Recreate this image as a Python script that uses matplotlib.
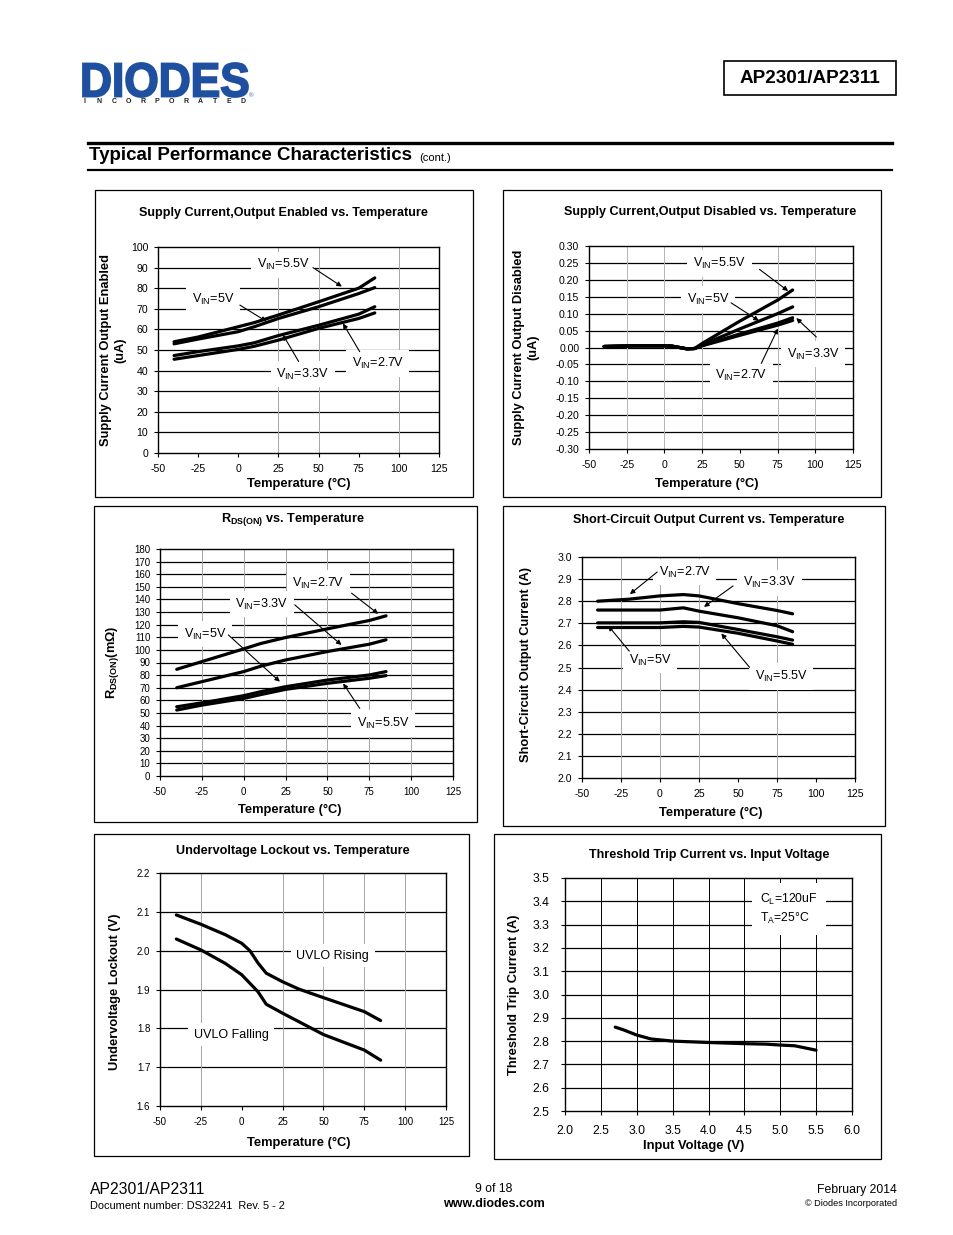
import matplotlib
matplotlib.use("Agg")
import matplotlib.pyplot as plt
from matplotlib.patches import Rectangle, PathPatch
from matplotlib.textpath import TextPath
from matplotlib.font_manager import FontProperties
from matplotlib.transforms import Affine2D

plt.rcParams['font.family'] = ['Liberation Sans', 'DejaVu Sans']
plt.rcParams['mathtext.fontset'] = 'custom'
plt.rcParams['mathtext.rm'] = 'Liberation Sans'
plt.rcParams['mathtext.bf'] = 'Liberation Sans:bold'
plt.rcParams['mathtext.it'] = 'Liberation Sans:italic'

W, H = 954, 1235

# --- data ---

# supply current, output enabled (uA)
T_EN = [-40, -25, 0, 10, 25, 50, 75, 85]
EN_55 = [54.0, 56.3, 61.3, 63.3, 67.0, 73.4, 80.0, 85.0]
EN_5 = [53.0, 55.3, 58.9, 61.3, 65.3, 71.0, 77.4, 80.3]
EN_33 = [47.3, 49.2, 52.0, 53.5, 57.0, 62.0, 67.4, 71.0]
EN_27 = [45.5, 47.3, 50.3, 51.8, 54.8, 60.5, 65.3, 68.0]

# supply current, output disabled (uA)
T_DIS = [-40, -20, 0, 5, 10, 15, 20, 25, 50, 75, 85]
DIS_55 = [0.003, 0.005, 0.005, 0.004, 0.000, -0.004, -0.003, 0.012, 0.078, 0.140, 0.170]
DIS_5 = [0.003, 0.005, 0.005, 0.004, 0.000, -0.004, -0.003, 0.008, 0.055, 0.100, 0.120]
DIS_33 = [0.003, 0.005, 0.005, 0.004, 0.000, -0.004, -0.003, 0.006, 0.040, 0.072, 0.088]
DIS_27 = [0.003, 0.005, 0.005, 0.004, 0.000, -0.004, -0.003, 0.005, 0.036, 0.066, 0.080]

# RDS(ON) (mOhm)
T_RDS = [-40, -25, 0, 10, 25, 50, 75, 85]
RDS_27 = [84.6, 90.7, 100.8, 105.0, 109.8, 116.7, 123.3, 127.0]
RDS_33 = [70.0, 74.8, 82.8, 87.0, 92.0, 98.7, 104.5, 108.0]
RDS_5 = [54.9, 58.0, 63.7, 66.8, 70.8, 76.1, 80.1, 82.8]
RDS_55 = [52.3, 56.2, 61.5, 64.5, 68.7, 73.5, 77.5, 79.6]

# short-circuit output current (A)
T_SC = [-40, -20, 0, 15, 25, 50, 75, 85]
SC_27 = [2.800, 2.809, 2.824, 2.830, 2.824, 2.789, 2.758, 2.743]
SC_33 = [2.760, 2.760, 2.760, 2.770, 2.755, 2.725, 2.689, 2.662]
SC_5 = [2.702, 2.702, 2.702, 2.707, 2.704, 2.672, 2.639, 2.624]
SC_55 = [2.681, 2.681, 2.681, 2.686, 2.683, 2.655, 2.620, 2.605]

# undervoltage lockout (V)
T_UV = [-40, -25, -10, 0, 5, 10, 15, 25, 35, 50, 75, 85]
UV_RISE = [2.092, 2.068, 2.041, 2.019, 2.000, 1.968, 1.942, 1.920, 1.901, 1.879, 1.843, 1.820]
UV_FALL = [2.030, 2.002, 1.967, 1.938, 1.916, 1.894, 1.862, 1.839, 1.817, 1.784, 1.744, 1.718]

# threshold trip current (A) vs input voltage (V)
VIN = [2.7, 2.8, 3.0, 3.2, 3.5, 4.0, 4.5, 4.8, 5.0, 5.2, 5.5]
TRIP = [2.860, 2.850, 2.826, 2.809, 2.800, 2.794, 2.789, 2.787, 2.783, 2.780, 2.761]

TEMP_TICKS = [-50, -25, 0, 25, 50, 75, 100, 125]

TITLE_FS = 9.1
LABEL_FS = 9.3
TAG_FS = 9.1


def vin(v):
    return r'V$_{\mathrm{IN}}$=' + v


fig = plt.figure(figsize=(W / 100, H / 100), dpi=100)
page = fig.add_axes([0, 0, 1, 1])
page.set_xlim(0, W)
page.set_ylim(H, 0)
page.axis('off')


def frame(l, t, r, b):
    page.add_patch(Rectangle((l, t), r - l, b - t, fill=False, lw=0.9, ec='k'))


def chart(l, t, r, b, yticks, yfmt, vgrid, vcolor='#a5a5a5',
          xticks=TEMP_TICKS, xfmt='%g', fs=7.6, xpad=5, ypad=4):
    ax = fig.add_axes([l / W, 1 - b / H, (r - l) / W, (b - t) / H])
    ax.set_xlim(xticks[0], xticks[-1])
    ax.set_ylim(yticks[0], yticks[-1])
    ax.set_xticks(xticks)
    ax.set_xticklabels([xfmt % v for v in xticks])
    ax.set_yticks(yticks)
    ax.set_yticklabels([yfmt % v for v in yticks])
    for y in yticks[1:-1]:
        ax.axhline(y, color='k', lw=0.9, zorder=1)
    for x in vgrid:
        ax.axvline(x, color=vcolor, lw=0.7, zorder=1)
    ax.tick_params(direction='out', length=3, width=0.8, labelsize=fs)
    ax.tick_params(axis='x', pad=xpad)
    ax.tick_params(axis='y', pad=ypad)
    for s in ax.spines.values():
        s.set_linewidth(1.0)
    return ax


def curve(ax, x, y):
    ax.plot(x, y, color='k', lw=2.3, solid_capstyle='round', zorder=4)


def tag(ax, s, pos, start=None, end=None, fs=TAG_FS, ha='center'):
    ax.text(pos[0], pos[1], s, fontsize=fs, ha=ha, va='center', zorder=3,
            bbox=dict(facecolor='white', edgecolor='none', pad=4))
    if start is not None:
        ax.annotate('', xy=end, xytext=start, zorder=5,
                    arrowprops=dict(arrowstyle='-|>', color='k', lw=0.8,
                                    mutation_scale=7, shrinkA=0, shrinkB=0))


def heading(x, y, s):
    page.text(x, y, s, fontsize=TITLE_FS, fontweight='bold', ha='center', va='center')


def xlab(x, y, s):
    page.text(x, y, s, fontsize=LABEL_FS, fontweight='bold', ha='center', va='center')


def ylab(x, y, s):
    page.text(x, y, s, fontsize=LABEL_FS, fontweight='bold', ha='center', va='center',
              rotation=90, linespacing=1.25)


# --- page header ---
tp = TextPath((0, 0), 'DIODES', size=1, prop=FontProperties(family='Liberation Sans', weight='bold'))
ext = tp.get_extents()
sx = (248 - 83) / ext.width
sy = (97 - 63) / ext.height
logo = Affine2D().translate(-ext.x0, -ext.y0).scale(sx, -sy).translate(83, 97).transform_path(tp)
page.add_patch(PathPatch(logo, fc='#1f4f9f', ec='#1f4f9f', lw=1.3))
for i, ch in enumerate('INCORPORATED'):
    page.text(85 + i * 14.4, 101.5, ch, fontsize=5, fontweight='bold', ha='center', va='center', color='#222222')
page.text(251, 96, '®', fontsize=4.5, color='#1f4f9f', ha='center', va='center')

page.add_patch(Rectangle((724, 61), 172, 34, fill=False, lw=1.2, ec='k'))
page.text(810, 78.5, 'AP2301/AP2311', fontsize=13.6, fontweight='bold', ha='center', va='center')

page.plot([88, 892], [142.5, 142.5], color='k', lw=2.4)
page.plot([88, 892], [170, 170], color='k', lw=1.6)
page.text(89, 156, 'Typical Performance Characteristics', fontsize=13.5, fontweight='bold', ha='left', va='center')
page.text(419, 158, '(cont.)', fontsize=8, ha='left', va='center')

# --- panel 1: supply current, output enabled ---
frame(95, 190, 473, 497)
ax = chart(158, 247, 439, 453, list(range(0, 101, 10)), '%d', [25, 50, 100])
for ys in (EN_55, EN_5, EN_33, EN_27):
    curve(ax, T_EN, ys)
tag(ax, vin('5.5V'), (27.9, 91.3), (46.5, 90.0), (64.5, 80.8))
tag(ax, vin('5V'), (-15.7, 74.5), (1.0, 71.8), (17.5, 63.9))
tag(ax, vin('3.3V'), (40.3, 38.2), (37.6, 44.4), (27.9, 57.3))
tag(ax, vin('2.7V'), (86.6, 43.5), (75.6, 49.2), (65.2, 62.9))
heading(283, 213, 'Supply Current,Output Enabled vs. Temperature')
ylab(113, 350, 'Supply Current Output Enabled\n(uA)')
xlab(299, 484, 'Temperature (°C)')

# --- panel 2: supply current, output disabled ---
frame(503, 190, 881, 497)
ax = chart(589, 246, 853, 449, [round(-0.30 + 0.05 * i, 2) for i in range(13)], '%.2f',
           [-25, 0, 25, 75, 100], vcolor='#b5b5b5')
for ys in (DIS_55, DIS_5, DIS_33, DIS_27):
    curve(ax, T_DIS, ys)
tag(ax, vin('5.5V'), (36.5, 0.248), (63.0, 0.231), (82.0, 0.167))
tag(ax, vin('5V'), (28.8, 0.142), (44.2, 0.132), (62.6, 0.079))
tag(ax, vin('3.3V'), (98.5, -0.020), (100.7, 0.031), (87.4, 0.087))
tag(ax, vin('2.7V'), (50.9, -0.082), (64.2, -0.047), (75.2, 0.056))
heading(710, 212, 'Supply Current,Output Disabled vs. Temperature')
ylab(526, 347, 'Supply Current Output Disabled\n(uA)')
xlab(707, 484, 'Temperature (°C)')

# --- panel 3: RDS(ON) ---
frame(94, 506, 477, 822)
ax = chart(160, 549, 453, 776, list(range(0, 181, 10)), '%d', [-25, 0, 25, 50, 75, 100], fs=7.0)
for ys in (RDS_27, RDS_33, RDS_5, RDS_55):
    curve(ax, T_RDS, ys)
tag(ax, vin('2.7V'), (44.5, 153.0), (64.4, 145.0), (80.3, 128.6))
tag(ax, vin('3.3V'), (10.7, 136.3), (30.5, 135.7), (58.4, 103.9))
tag(ax, vin('5V'), (-23.2, 112.4), (-9.2, 111.9), (21.6, 74.8))
tag(ax, vin('5.5V'), (83.3, 41.6), (69.3, 53.6), (59.4, 73.4))
heading(293, 520, r'R$_{\mathbf{DS(ON)}}$ vs. Temperature')
ylab(113, 662, r'R$_{\mathbf{DS(ON)}}$(mΩ)')
xlab(290, 810, 'Temperature (°C)')

# --- panel 4: short-circuit output current ---
frame(503, 506, 885, 826)
ax = chart(582, 557, 855, 778, [round(2.0 + 0.1 * i, 1) for i in range(11)], '%.1f',
           [-25, 0, 25, 75], vcolor='#a8a8a8')
for ys in (SC_27, SC_33, SC_5, SC_55):
    curve(ax, T_SC, ys)
tag(ax, vin('2.7V'), (15.9, 2.932), (-1.8, 2.932), (-19.3, 2.832))
tag(ax, vin('3.3V'), (70.2, 2.884), (46.8, 2.869), (28.2, 2.774))
tag(ax, vin('5V'), (-6.5, 2.534), (-19.7, 2.574), (-33.2, 2.689))
tag(ax, vin('5.5V'), (77.7, 2.459), (57.4, 2.501), (39.3, 2.654))
heading(709, 520, 'Short-Circuit Output Current vs. Temperature')
ylab(526, 665, 'Short-Circuit Output Current (A)')
xlab(711, 813, 'Temperature (°C)')

# --- panel 5: undervoltage lockout ---
frame(94, 834, 469, 1156)
ax = chart(160, 873, 446, 1106, [round(1.6 + 0.1 * i, 1) for i in range(7)], '%.1f',
           [-25, 25, 50, 75, 100], fs=7.0)
curve(ax, T_UV, UV_RISE)
curve(ax, T_UV, UV_FALL)
tag(ax, 'UVLO Rising', (55.7, 1.987), fs=9.0)
tag(ax, 'UVLO Falling', (-6.4, 1.784), fs=9.0)
heading(293, 851, 'Undervoltage Lockout vs. Temperature')
ylab(115, 992, 'Undervoltage Lockout (V)')
xlab(299, 1143, 'Temperature (°C)')

# --- panel 6: threshold trip current ---
frame(494, 834, 881, 1159)
vticks = [round(2.0 + 0.5 * i, 1) for i in range(9)]
ax = chart(565, 878, 852, 1111, [round(2.5 + 0.1 * i, 1) for i in range(11)], '%.1f',
           vticks[1:-1], vcolor='k', xticks=vticks, xfmt='%.1f', fs=8.8, xpad=7, ypad=8)
curve(ax, VIN, TRIP)
ax.text(4.72, 3.367, 'C$_{\\mathrm{L}}$=120uF\nT$_{\\mathrm{A}}$=25°C', fontsize=8.8, ha='left', va='center',
        zorder=3, linespacing=1.4, bbox=dict(facecolor='white', edgecolor='none', pad=6))
heading(709, 855, 'Threshold Trip Current vs. Input Voltage')
ylab(514, 995, 'Threshold Trip Current (A)')
xlab(694, 1146, 'Input Voltage (V)')

# --- footer ---
page.text(90, 1190, 'AP2301/AP2311', fontsize=11.3, ha='left', va='center')
page.text(90, 1206, 'Document number: DS32241  Rev. 5 - 2', fontsize=7.9, ha='left', va='center')
page.text(494, 1189, '9 of 18', fontsize=8.7, ha='center', va='center')
page.text(494, 1204, 'www.diodes.com', fontsize=9.0, fontweight='bold', ha='center', va='center')
page.text(897, 1190, 'February 2014', fontsize=8.8, ha='right', va='center')
page.text(897, 1204, '© Diodes Incorporated', fontsize=6.6, ha='right', va='center')

fig.savefig('out.png', dpi=100)
